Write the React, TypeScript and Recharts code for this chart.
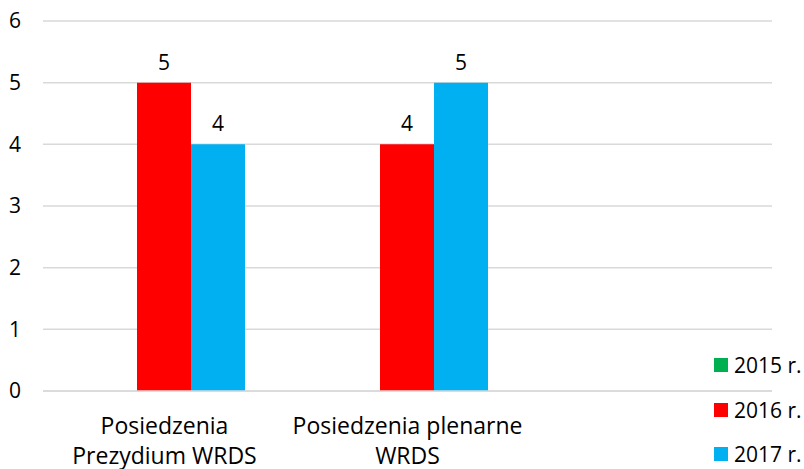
import React from 'react';
import { BarChart, Bar, XAxis, YAxis, CartesianGrid, LabelList } from 'recharts';

const categories = ['Posiedzenia\nPrezydium WRDS', 'Posiedzenia plenarne\nWRDS', ''];
const values2015: (number | null)[] = [null, null, null];
const values2016: (number | null)[] = [5, 4, null];
const values2017: (number | null)[] = [4, 5, null];
const yTicks = [0, 1, 2, 3, 4, 5, 6];

const data = categories.map((name, i) => ({
  name,
  y2015: values2015[i],
  y2016: values2016[i],
  y2017: values2017[i],
}));

const series = [
  { key: 'y2015', label: '2015 r.', color: '#00B050' },
  { key: 'y2016', label: '2016 r.', color: '#FF0000' },
  { key: 'y2017', label: '2017 r.', color: '#00B0F0' },
];

const FONT = '"Open Sans", sans-serif';

const CategoryTick = (props: any) => {
  const { x, y, payload } = props;
  const lines = String(payload.value).split('\n');
  return (
    <text x={x} y={y} textAnchor="middle" fill="#000" fontSize={23} fontFamily={FONT}>
      {lines.map((line, i) => (
        <tspan key={i} x={x} dy={i === 0 ? 35 : 30}>{line}</tspan>
      ))}
    </text>
  );
};

const App: React.FC = () => {
  return (
    <div style={{ position: 'absolute', left: 0, top: 0, width: 804, height: 469, overflow: 'hidden', background: '#fff' }}>
      <BarChart
        width={804}
        height={469}
        data={data}
        margin={{ top: 21, right: 32, bottom: 0, left: 0 }}
        barGap={0}
        barCategoryGap={40}
      >
        <CartesianGrid vertical={false} stroke="#d9d9d9" strokeWidth={1.5} />
        <XAxis
          dataKey="name"
          height={78}
          tick={<CategoryTick />}
          tickLine={false}
          axisLine={{ stroke: '#d9d9d9', strokeWidth: 1.5 }}
          interval={0}
        />
        <YAxis
          width={43}
          domain={[0, 6]}
          ticks={yTicks}
          axisLine={false}
          tickLine={false}
          tickMargin={16}
          tick={{ fill: '#000', fontSize: 21, fontFamily: FONT }}
        />
        {series.map((s) => (
          <Bar key={s.key} dataKey={s.key} fill={s.color} isAnimationActive={false}>
            <LabelList dataKey={s.key} position="top" offset={13} fill="#000" fontSize={21} fontFamily={FONT} />
          </Bar>
        ))}
      </BarChart>
      <div style={{ position: 'absolute', left: 714, top: 343, fontFamily: FONT, fontSize: 21, color: '#000' }}>
        {series.map((s) => (
          <div key={s.key} style={{ display: 'flex', alignItems: 'center', height: 44.5 }}>
            <span style={{ width: 14, height: 14, background: s.color, marginRight: 6, display: 'inline-block' }} />
            <span style={{ whiteSpace: 'nowrap' }}>{s.label}</span>
          </div>
        ))}
      </div>
    </div>
  );
};

export default App;
